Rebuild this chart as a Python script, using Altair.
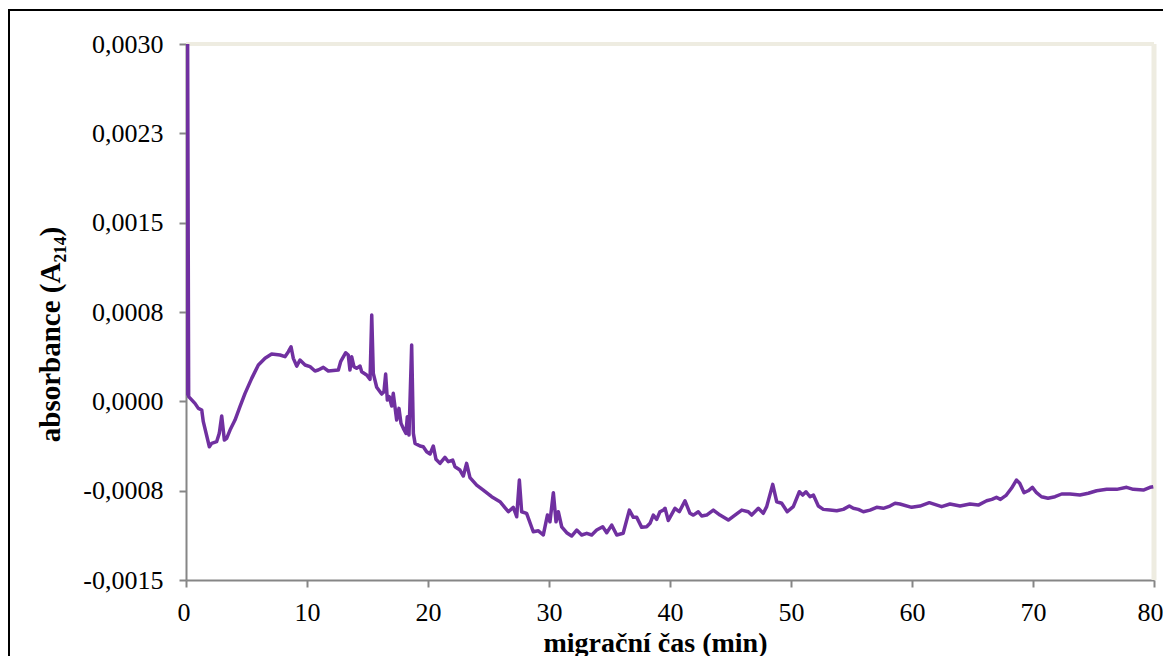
import altair as alt
import pandas as pd

# migration time (min)
time_min = [
    0.05, 0.12, 0.22, 0.74, 1.02, 1.30, 1.43, 1.93, 2.12, 2.53, 2.75, 2.95, 3.17, 3.36, 3.64,
    4.05, 4.46, 4.88, 5.43, 5.98, 6.53, 7.08, 7.77, 8.18, 8.46, 8.68, 8.87, 9.15, 9.42, 9.84,
    10.25, 10.66, 10.93, 11.35, 11.76, 12.59, 12.78, 13.20, 13.41, 13.55, 13.69, 13.88, 14.10,
    14.38, 14.52, 14.93, 15.21, 15.35, 15.48, 15.76, 16.17, 16.36, 16.50, 16.64, 16.80, 17.00,
    17.13, 17.27, 17.41, 17.60, 17.77, 17.96, 18.18, 18.29, 18.43, 18.65, 18.79, 18.93, 19.34,
    19.61, 19.89, 20.17, 20.44, 20.66, 20.99, 21.40, 21.68, 22.04, 22.23, 22.64, 22.92, 23.19,
    23.47, 24.02, 24.57, 25.26, 25.95, 26.64, 27.05, 27.33, 27.55, 27.74, 28.15, 28.70, 29.12,
    29.53, 29.87, 30.08, 30.36, 30.58, 30.77, 31.05, 31.46, 31.87, 32.29, 32.70, 33.12, 33.53,
    33.94, 34.44, 34.77, 35.18, 35.60, 36.13, 36.64, 36.97, 37.25, 37.66, 38.07, 38.35, 38.62,
    38.90, 39.17, 39.45, 39.59, 39.86, 40.41, 40.77, 41.24, 41.65, 41.93, 42.34, 42.62, 43.03,
    43.58, 44.13, 44.82, 45.37, 45.93, 46.47, 46.75, 47.30, 47.71, 47.99, 48.49, 48.82, 49.23,
    49.69, 50.19, 50.69, 50.97, 51.24, 51.57, 51.85, 52.26, 52.67, 53.22, 53.78, 54.32, 54.82,
    55.15, 55.56, 55.98, 56.53, 57.08, 57.63, 58.18, 58.60, 59.00, 59.97, 60.66, 61.43, 62.45,
    63.14, 63.97, 64.79, 65.48, 66.17, 66.60, 66.98, 67.31, 67.80, 68.22, 68.63, 68.90, 69.26,
    69.60, 69.95, 70.29, 70.70, 71.24, 71.82, 72.37, 73.06, 73.88, 74.57, 75.26, 76.09, 76.92,
    77.74, 78.29, 79.12, 79.67, 79.94,
]

# absorbance at 214 nm
absorbance = [
    0.000050, 0.003500, 0.000040, -0.000017, -0.000059, -0.000073, -0.000171, -0.000381,
    -0.000353, -0.000339, -0.000269, -0.000123, -0.000325, -0.000311, -0.000241, -0.000157,
    -0.000045, 0.000067, 0.000193, 0.000305, 0.000361, 0.000397, 0.000389, 0.000375, 0.000417,
    0.000458, 0.000361, 0.000296, 0.000347, 0.000305, 0.000291, 0.000255, 0.000263, 0.000285,
    0.000255, 0.000263, 0.000333, 0.000408, 0.000389, 0.000263, 0.000375, 0.000291, 0.000277,
    0.000296, 0.000249, 0.000221, 0.000185, 0.000725, 0.000235, 0.000118, 0.000061, 0.000081,
    0.000229, 0.000011, 0.000039, -0.000039, 0.000067, -0.000045, -0.000157, -0.000059,
    -0.000185, -0.000227, -0.000269, -0.000129, -0.000283, 0.000473, -0.000269, -0.000353,
    -0.000375, -0.000381, -0.000423, -0.000442, -0.000375, -0.000487, -0.000521, -0.000470,
    -0.000507, -0.000493, -0.000549, -0.000577, -0.000627, -0.000521, -0.000640, -0.000703,
    -0.000745, -0.000801, -0.000843, -0.000927, -0.000890, -0.000969, -0.000661, -0.000927,
    -0.000940, -0.001095, -0.001087, -0.001122, -0.000955, -0.001011, -0.000767, -0.001011,
    -0.000927, -0.001053, -0.001103, -0.001131, -0.001081, -0.001122, -0.001108, -0.001122,
    -0.001081, -0.001053, -0.001103, -0.001039, -0.001122, -0.001108, -0.000913, -0.000974,
    -0.000974, -0.001058, -0.001053, -0.001024, -0.000955, -0.000991, -0.000927, -0.000913,
    -0.000898, -0.001000, -0.000898, -0.000927, -0.000835, -0.000940, -0.000955, -0.000927,
    -0.000963, -0.000955, -0.000913, -0.000955, -0.000997, -0.000955, -0.000913, -0.000927,
    -0.000955, -0.000898, -0.000940, -0.000884, -0.000697, -0.000843, -0.000856, -0.000927,
    -0.000884, -0.000759, -0.000787, -0.000759, -0.000801, -0.000787, -0.000879, -0.000907,
    -0.000913, -0.000919, -0.000907, -0.000879, -0.000898, -0.000907, -0.000927, -0.000913,
    -0.000890, -0.000898, -0.000879, -0.000856, -0.000862, -0.000890, -0.000879, -0.000851,
    -0.000884, -0.000862, -0.000879, -0.000862, -0.000871, -0.000835, -0.000823, -0.000806,
    -0.000823, -0.000787, -0.000730, -0.000661, -0.000688, -0.000767, -0.000751, -0.000722,
    -0.000767, -0.000801, -0.000814, -0.000801, -0.000778, -0.000778, -0.000787, -0.000772,
    -0.000751, -0.000739, -0.000739, -0.000722, -0.000739, -0.000745, -0.000722, -0.000717,
]

x_ticks = [0, 10, 20, 30, 40, 50, 60, 70, 80]
y_ticks = [-0.0015, -0.00075, 0.0, 0.00075, 0.0015, 0.00225, 0.003]
y_tick_labels = ["-0,0015", "-0,0008", "0,0000", "0,0008", "0,0015", "0,0023", "0,0030"]

x_domain = [0, 80]
y_domain = [-0.0015, 0.003]

W, H = 968, 536
FONT = "Liberation Serif"

df = pd.DataFrame({"t": time_min, "a": absorbance})

xscale = alt.Scale(domain=x_domain, nice=False, zero=False)
yscale = alt.Scale(domain=y_domain, nice=False, zero=False)

labels_js = "[" + ",".join("'%s'" % s for s in y_tick_labels) + "]"
values_js = "[" + ",".join(repr(v) for v in y_ticks) + "]"
y_label_expr = "%s[indexof(%s, datum.value)]" % (labels_js, values_js)

x_axis = alt.Axis(
    values=x_ticks,
    title="migrační čas (min)",
    labelFlush=True,
    labelFlushOffset=9,
    labelPadding=12,
    titleX=469,
    titleY=71,
    titleFontSize=28,
    titleAlign="center",
    titleBaseline="alphabetic",
)
y_axis = alt.Axis(
    values=y_ticks,
    labelExpr=y_label_expr,
    title="absorbance (A₂₁₄)",
    labelPadding=16,
    titleX=-127,
    titleY=290,
    titleAngle=270,
    titleAlign="center",
    titleBaseline="alphabetic",
)

top_rule = alt.Chart(pd.DataFrame({"a": [y_domain[1]]})).mark_rule(
    color="#EEECE1", strokeWidth=4
).encode(y=alt.Y("a:Q", scale=yscale, axis=y_axis))

right_rule = alt.Chart(pd.DataFrame({"t": [x_domain[1]]})).mark_rule(
    color="#EEECE1", strokeWidth=5
).encode(x=alt.X("t:Q", scale=xscale, axis=x_axis))

line = alt.Chart(df).mark_line(
    color="#7030A0", strokeWidth=3.5, clip=True, strokeJoin="round"
).encode(
    x=alt.X("t:Q", scale=xscale, axis=x_axis),
    y=alt.Y("a:Q", scale=yscale, axis=y_axis),
)

frame = alt.Chart(pd.DataFrame({"k": [0]})).mark_rect(
    filled=False, stroke="black", strokeWidth=2
).encode(
    x=alt.value(-177), x2=alt.value(2000), y=alt.value(-34), y2=alt.value(2000)
)

chart = alt.layer(top_rule, right_rule, line, frame).properties(
    width=W,
    height=H,
    autosize=alt.AutoSizeParams(type="none"),
    padding={"left": 178, "top": 36, "right": 9, "bottom": 76},
    background="white",
).configure_view(
    strokeWidth=0
).configure_axis(
    grid=False,
    domainColor="#868686",
    domainWidth=2,
    tickColor="#868686",
    tickWidth=2,
    tickSize=7,
    labelFont=FONT,
    labelFontSize=26,
    labelColor="black",
    titleFont=FONT,
    titleFontSize=29,
    titleFontWeight="bold",
    titleColor="black",
    zindex=1,
)

chart.save("out.html", embed_options={"renderer": "svg", "actions": False})
